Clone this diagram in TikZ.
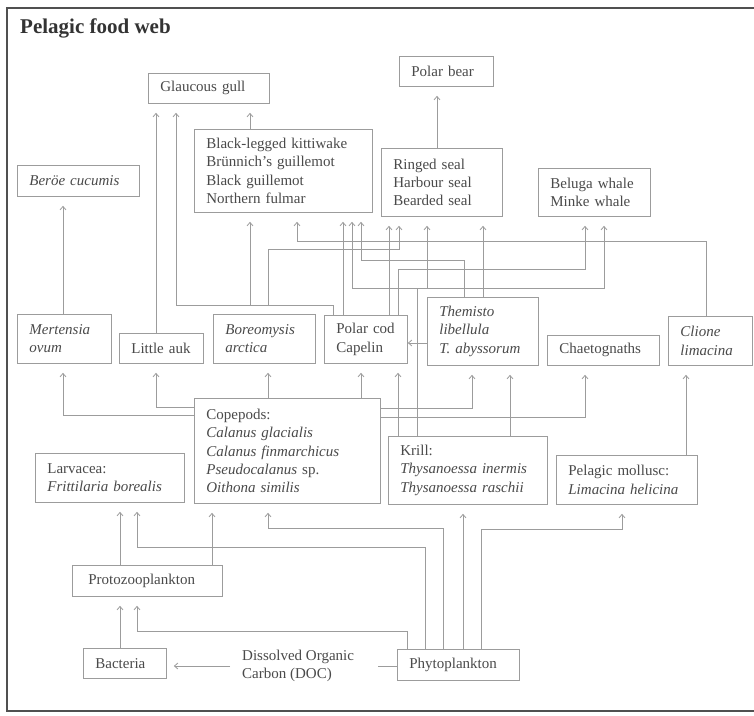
\documentclass[tikz,border=0pt]{standalone}
\usepackage{fontspec}
\setmainfont{Liberation Serif}
\usetikzlibrary{arrows.meta}
\definecolor{linegray}{HTML}{9C9C9C}
\definecolor{textgray}{HTML}{4A4A4A}
\definecolor{framegray}{HTML}{505050}
\newcommand{\webfont}{\fontsize{15}{18.3}\selectfont}

\begin{document}
\begin{tikzpicture}[x=1pt, y=-1pt,
  box/.style={draw=linegray, line width=0.8pt, anchor=north west, inner xsep=12pt, inner ysep=0pt, align=left, text=textgray, font=\webfont},
  arr/.style={draw=linegray, line width=0.8pt, -{Straight Barb[length=3.5pt,width=6pt]}, shorten >=9pt},
  link/.style={draw=linegray, line width=0.8pt}]

\fill[white] (0,0) rectangle (754,715);
\useasboundingbox (0,0) rectangle (754,715);
\draw[framegray, line width=2pt] (754,8) -- (7,8) -- (7,711) -- (754,711);
\node[anchor=west, inner sep=0pt, text=black!80, font=\bfseries\fontsize{21}{24}\selectfont] (title) at (20,28.5) {Pelagic food web};

\node[box, text width=97pt, minimum height=30pt] (gull) at (148,73) {Glaucous gull};
\node[box, text width=70pt, minimum height=30pt] (bear) at (399,56) {Polar bear};
\node[box, text width=98pt, minimum height=31pt] (beroe) at (17,165) {\textit{Beröe cucumis}};
\node[box, text width=154pt, minimum height=83pt] (birds) at (194,129) {Black-legged kittiwake\\Brünnich's guillemot\\Black guillemot\\Northern fulmar};
\node[box, text width=97pt, minimum height=68pt] (seals) at (381,148) {Ringed seal\\Harbour seal\\Bearded seal};
\node[box, text width=88pt, minimum height=48pt] (whales) at (538,168) {Beluga whale\\Minke whale};

\node[box, text width=70pt, minimum height=49pt] (mert) at (17,314) {\textit{Mertensia}\\\textit{ovum}};
\node[box, text width=60pt, minimum height=30pt] (auk) at (119,333) {Little auk};
\node[box, text width=78pt, minimum height=49pt] (boreo) at (213,314) {\textit{Boreomysis}\\\textit{arctica}};
\node[box, text width=59pt, minimum height=48pt] (cod) at (324,315) {Polar cod\\Capelin};
\node[box, text width=87pt, minimum height=68pt] (themisto) at (427,297) {\textit{Themisto}\\\textit{libellula}\\\textit{T. abyssorum}};
\node[box, text width=88pt, minimum height=30pt] (chaeto) at (547,335) {Chaetognaths};
\node[box, text width=60pt, minimum height=49pt] (clione) at (668,316) {\textit{Clione}\\\textit{limacina}};

\node[box, text width=162pt, minimum height=105pt] (cope) at (194,398) {Copepods:\\\textit{Calanus glacialis}\\\textit{Calanus finmarchicus}\\\textit{Pseudocalanus} sp.\\\textit{Oithona similis}};
\node[box, text width=125pt, minimum height=49pt] (larv) at (35,453) {Larvacea:\\\textit{Frittilaria borealis}};
\node[box, text width=135pt, minimum height=68pt] (krill) at (388,436) {Krill:\\\textit{Thysanoessa inermis}\\\textit{Thysanoessa raschii}};
\node[box, text width=117pt, minimum height=49pt] (moll) at (556,455) {Pelagic mollusc:\\\textit{Limacina helicina}};

\node[box, inner xsep=16pt, text width=118pt, minimum height=31pt] (proto) at (72,565) {Protozooplankton};
\node[box, text width=59pt, minimum height=30pt] (bact) at (83,648) {Bacteria};
\node[box, text width=98pt, minimum height=31pt] (phyto) at (397,649) {Phytoplankton};
\node[anchor=west, inner sep=0pt, align=left, text=textgray, font=\webfont] (doc) at (242,666) {Dissolved Organic\\Carbon (DOC)};

\draw[arr] (seals.north -| 437,0) -- (bear.south -| 437,0);
\draw[arr] (birds.north -| 250,0) -- (gull.south -| 250,0);
\draw[arr] (auk.north -| 156,0) -- (gull.south -| 156,0);
\draw[arr] (mert.north -| 63,0) -- (beroe.south -| 63,0);
\draw[arr] (cod.north -| 333,0) -- (333,305) -| (gull.south -| 176,0);
\draw[arr] (cod.north -| 333,0) -- (333,305) -| (birds.south -| 250,0);
\draw[arr] (cod.north -| 333,0) -- (333,305) -| (268,249) -| (seals.south -| 399,0);
\draw[arr] (cod.north -| 343,0) -- (birds.south -| 343,0);
\draw[arr] (cod.north -| 389,0) -- (seals.south -| 389,0);
\draw[arr] (cod.north -| 398,0) -- (398,269) -| (whales.south -| 585,0);
\draw[arr] (clione.north -| 706,0) -- (706,241) -| (birds.south -| 297,0);
\draw[arr] (krill.north -| 417,0) -- (417,288) -| (birds.south -| 352,0);
\draw[arr] (krill.north -| 417,0) -- (417,288) -| (seals.south -| 427,0);
\draw[arr] (krill.north -| 417,0) -- (417,288) -| (whales.south -| 604,0);
\draw[arr] (themisto.north -| 464,0) -- (464,260) -| (birds.south -| 361,0);
\draw[arr] (themisto.north -| 483,0) -- (seals.south -| 483,0);
\draw[arr, shorten >=0pt] (themisto.west |- 0,343) -- (cod.east |- 0,343);

\draw[arr] (cope.west |- 0,415) -| (mert.south -| 63,0);
\draw[arr] (cope.west |- 0,407) -| (auk.south -| 156,0);
\draw[arr] (cope.north -| 268,0) -- (boreo.south -| 268,0);
\draw[arr] (cope.north -| 361,0) -- (cod.south -| 361,0);
\draw[arr] (cope.east |- 0,408) -| (themisto.south -| 472,0);
\draw[arr] (cope.east |- 0,417) -| (chaeto.south -| 585,0);
\draw[arr] (krill.north -| 398,0) -- (cod.south -| 398,0);
\draw[arr] (krill.north -| 510,0) -- (themisto.south -| 510,0);
\draw[arr] (moll.north -| 686,0) -- (clione.south -| 686,0);

\draw[arr] (proto.north -| 120,0) -- (larv.south -| 120,0);
\draw[arr] (proto.north -| 212,0) -- (cope.south -| 212,0);
\draw[arr] (phyto.north -| 425,0) -- (425,547) -| (larv.south -| 137,0);
\draw[arr] (phyto.north -| 443,0) -- (443,528) -| (cope.south -| 268,0);
\draw[arr] (phyto.north -| 463,0) -- (krill.south -| 463,0);
\draw[arr] (phyto.north -| 481,0) -- (481,529) -| (moll.south -| 622,0);
\draw[arr] (bact.north -| 120,0) -- (proto.south -| 120,0);
\draw[arr] (phyto.north -| 407,0) -- (407,631) -| (proto.south -| 137,0);
\draw[arr, shorten >=7pt] ([xshift=-12pt]doc.west) -- (bact.east |- doc.west);
\draw[link] (phyto.west |- doc.west) -- ++(-19,0);

\end{tikzpicture}
\end{document}
